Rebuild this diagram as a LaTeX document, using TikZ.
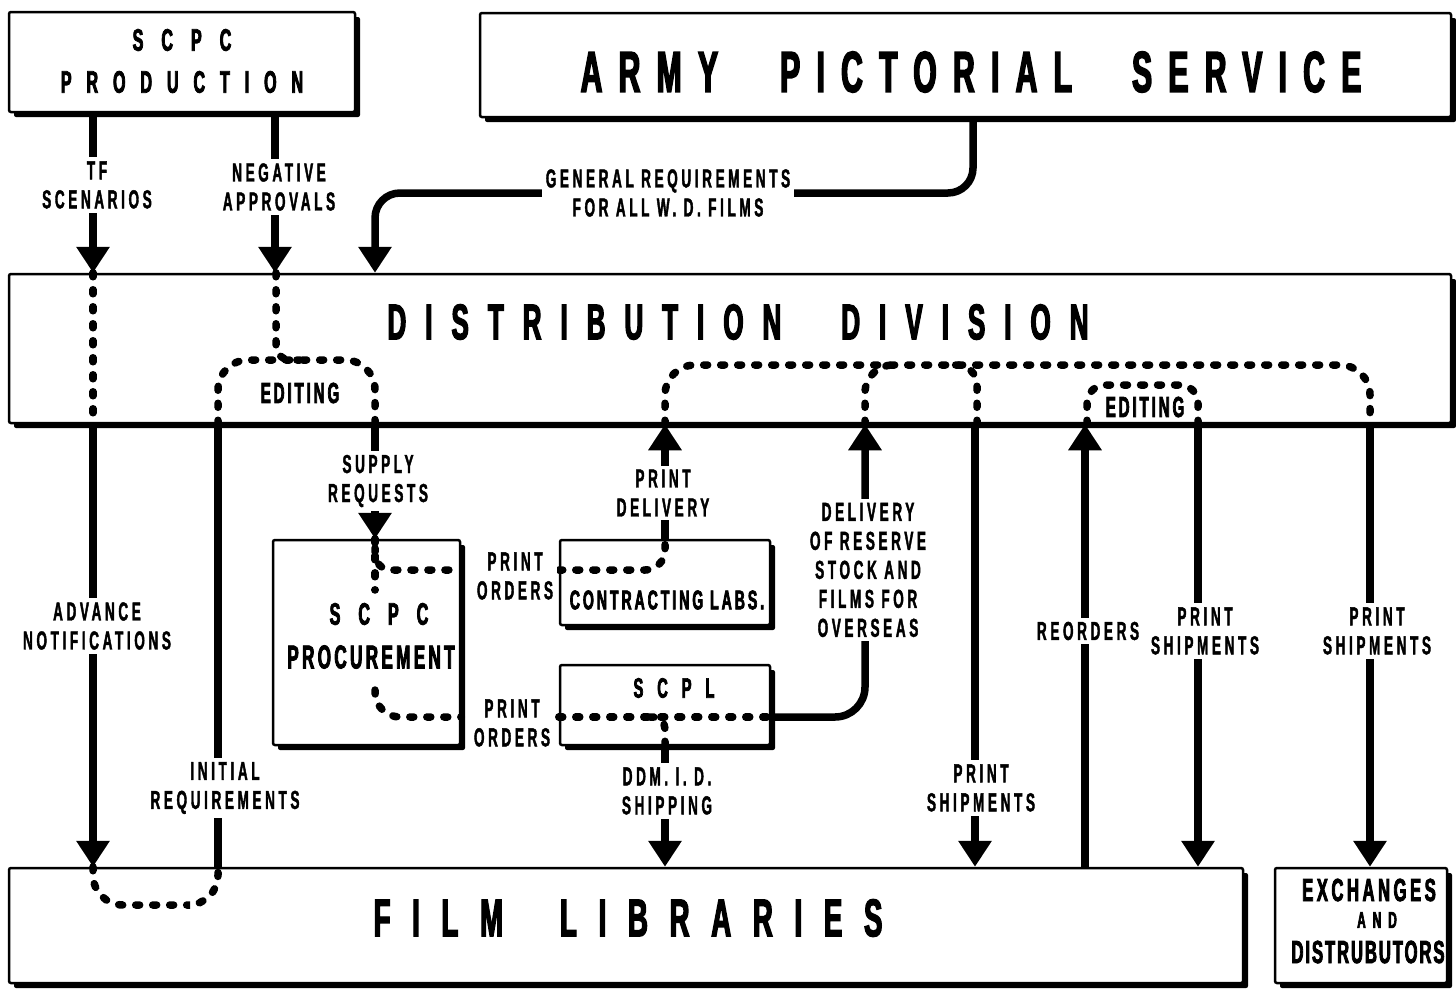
\documentclass[tikz,border=0pt]{standalone}
\usepackage{fontspec}
\newfontfamily\headfont{Liberation Sans}[FakeStretch=0.52, FakeBold=2.5]
\newfontfamily\tagfont{Liberation Sans}[FakeStretch=0.52, FakeBold=1.5, LetterSpace=14]
\usetikzlibrary{arrows.meta,shadows}

\tikzset{
  unit/.style={draw, line width=2.5pt, fill=white, rounded corners=2pt, inner sep=0pt,
    drop shadow={shadow xshift=5pt, shadow yshift=-5pt, opacity=1, fill=black}},
  flow/.style={line width=7.5pt},
  feed/.style={flow, -{Triangle[width=32pt,length=26pt]}},
  dots/.style={line width=7.5pt, line cap=round, dash pattern=on 4pt off 13pt},
  tag/.style={fill=white, inner sep=4pt, align=center,
    font=\tagfont\bfseries\fontsize{26}{29}\selectfont},
  head/.style 2 args={inner sep=0pt, align=center,
    font=\headfont\bfseries\fontsize{#1}{#1}\selectfont\addfontfeatures{LetterSpace=#2}},
}

\begin{document}
\begin{tikzpicture}[x=1pt, y=-1pt]
    \useasboundingbox[fill=white] (0,0) rectangle (1456,991);

    % offices
    \node[unit, minimum width=346pt, minimum height=100pt] (prod) at (182,62) {};
    \node[unit, minimum width=971pt, minimum height=104pt] (aps) at (965.5,65) {};
    \node[unit, minimum width=1442pt, minimum height=149pt] (dist) at (730,348.5) {};
    \node[unit, minimum width=187pt, minimum height=205pt] (proc) at (366.5,642.5) {};
    \node[unit, minimum width=210pt, minimum height=85pt] (labs) at (665,582.5) {};
    \node[unit, minimum width=210pt, minimum height=80pt] (scpl) at (665,705) {};
    \node[unit, minimum width=1234pt, minimum height=115pt] (lib) at (626,925.5) {};
    \node[unit, minimum width=172pt, minimum height=115pt] (exch) at (1361,925.5) {};

    \node[head={31}{58}] (prodname) at (182,61) {SCPC\\[11pt]\addfontfeatures{LetterSpace=48}PRODUCTION};
    \node[head={58}{28}] (apsname) at (971,72) {ARMY\hspace{62pt}PICTORIAL\hspace{60pt}SERVICE};
    \node[head={50}{38}] (distname) at (738,322) {DISTRIBUTION\hspace{60pt}DIVISION};
    \node[head={31}{58}] (procname) at (379,614) {SCPC};
    \node[head={33}{10}] at (371,657) {PROCUREMENT};
    \node[head={27}{11}] (labsname) at (667,600) {CONTRACTING LABS.};
    \node[head={28}{50}] (scplname) at (674,688) {SCPL};
    \node[head={53}{41}] (libname) at (628,918) {FILM\hspace{57pt}LIBRARIES};
    \node[head={32}{11}] (exchname) at (1369,890) {EXCHANGES};
    \node[head={23}{30}] at (1377,920) {AND};
    \node[head={32}{6}] at (1368,952) {DISTRUBUTORS};

    % into the division
    \draw[feed] (93,0 |- prod.south) -- (93,0 |- dist.north);
    \draw[feed] (275,0 |- prod.south) -- (275,0 |- dist.north);
    \draw[feed, rounded corners=25pt] (973,0 |- aps.south) |- (700,193) -| (375,0 |- dist.north);

    % routing inside the division
    \draw[dots] (93,0 |- dist.north) -- (93,0 |- dist.south);
    \draw[dots, rounded corners=14pt] (276,0 |- dist.north) |- (300,360);
    \draw[dots, rounded corners=30pt] (218,0 |- dist.south) |- (296,360) -| (375,0 |- dist.south);
    \draw[dots, rounded corners=30pt] (665,0 |- dist.south) |- (1000,365) -| (1370,0 |- dist.south);
    \draw[dots, rounded corners=28pt] (865,0 |- dist.south) |- (900,365);
    \draw[dots, rounded corners=20pt] (977,0 |- dist.south) |- (955,365);
    \draw[dots, rounded corners=18pt] (1087,0 |- dist.south) |- (1140,385) -| (1198,0 |- dist.south);
    \node[head={29}{10}] (edit1) at (300,393) {EDITING};
    \node[head={29}{10}] (edit2) at (1145,407) {EDITING};

    % out of the division
    \draw[feed] (93,0 |- dist.south) -- (93,0 |- lib.north);
    \draw[flow] (218,0 |- dist.south) -- (218,0 |- lib.north);
    \draw[feed] (375,0 |- dist.south) -- (375,0 |- proc.north);
    \draw[feed] (labs.north) -- (labs.north |- dist.south);
    \draw[feed, rounded corners=30pt] (scpl.east |- 0,717) -| (865,0 |- dist.south);
    \draw[feed] (scpl.south) -- (scpl.south |- lib.north);
    \draw[feed] (975,0 |- dist.south) -- (975,0 |- lib.north);
    \draw[feed] (1085,0 |- lib.north) -- (1085,0 |- dist.south);
    \draw[feed] (1198,0 |- dist.south) -- (1198,0 |- lib.north);
    \draw[feed] (1370,0 |- dist.south) -- (1370,0 |- exch.north);

    % print orders and shipping
    \draw[dots] (375,0 |- proc.north) -- (375,590);
    \draw[dots, rounded corners=16pt] (375,548) |- (proc.east |- 0,570);
    \draw[dots, rounded corners=25pt] (375,690) |- (proc.east |- 0,717);
    \draw[dots, rounded corners=20pt] (labs.west |- 0,570) -| (labs.north);
    \draw[dots] (scpl.west |- 0,717) -- (scpl.east |- 0,717);
    \draw[dots, rounded corners=12pt] (650,717) -| (scpl.south);
    \draw[dots, rounded corners=30pt] (93,0 |- lib.north) |- (160,905) -| (218,0 |- lib.north);

    % labels on the lines
    \node[tag] at (97,185) {TF\\SCENARIOS};
    \node[tag] at (279,187) {NEGATIVE\\APPROVALS};
    \node[tag] at (668,193) {GENERAL REQUIREMENTS\\FOR ALL W. D. FILMS};
    \node[tag] at (378,481) {SUPPLY\\REQUESTS};
    \node[tag] at (663,493) {PRINT\\DELIVERY};
    \node[tag] at (515,576) {PRINT\\ORDERS};
    \node[tag] at (512,723) {PRINT\\ORDERS};
    \node[tag] at (868,570) {DELIVERY\\OF RESERVE\\STOCK AND\\FILMS FOR\\OVERSEAS};
    \node[tag] at (97,626) {ADVANCE\\NOTIFICATIONS};
    \node[tag] at (225,788) {INITIAL\\REQUIREMENTS};
    \node[tag] at (667,791) {DDM. I. D.\\SHIPPING};
    \node[tag] at (981,788) {PRINT\\SHIPMENTS};
    \node[tag] at (1088,631) {REORDERS};
    \node[tag] at (1205,631) {PRINT\\SHIPMENTS};
    \node[tag] at (1377,631) {PRINT\\SHIPMENTS};
  \end{tikzpicture}
\end{document}
